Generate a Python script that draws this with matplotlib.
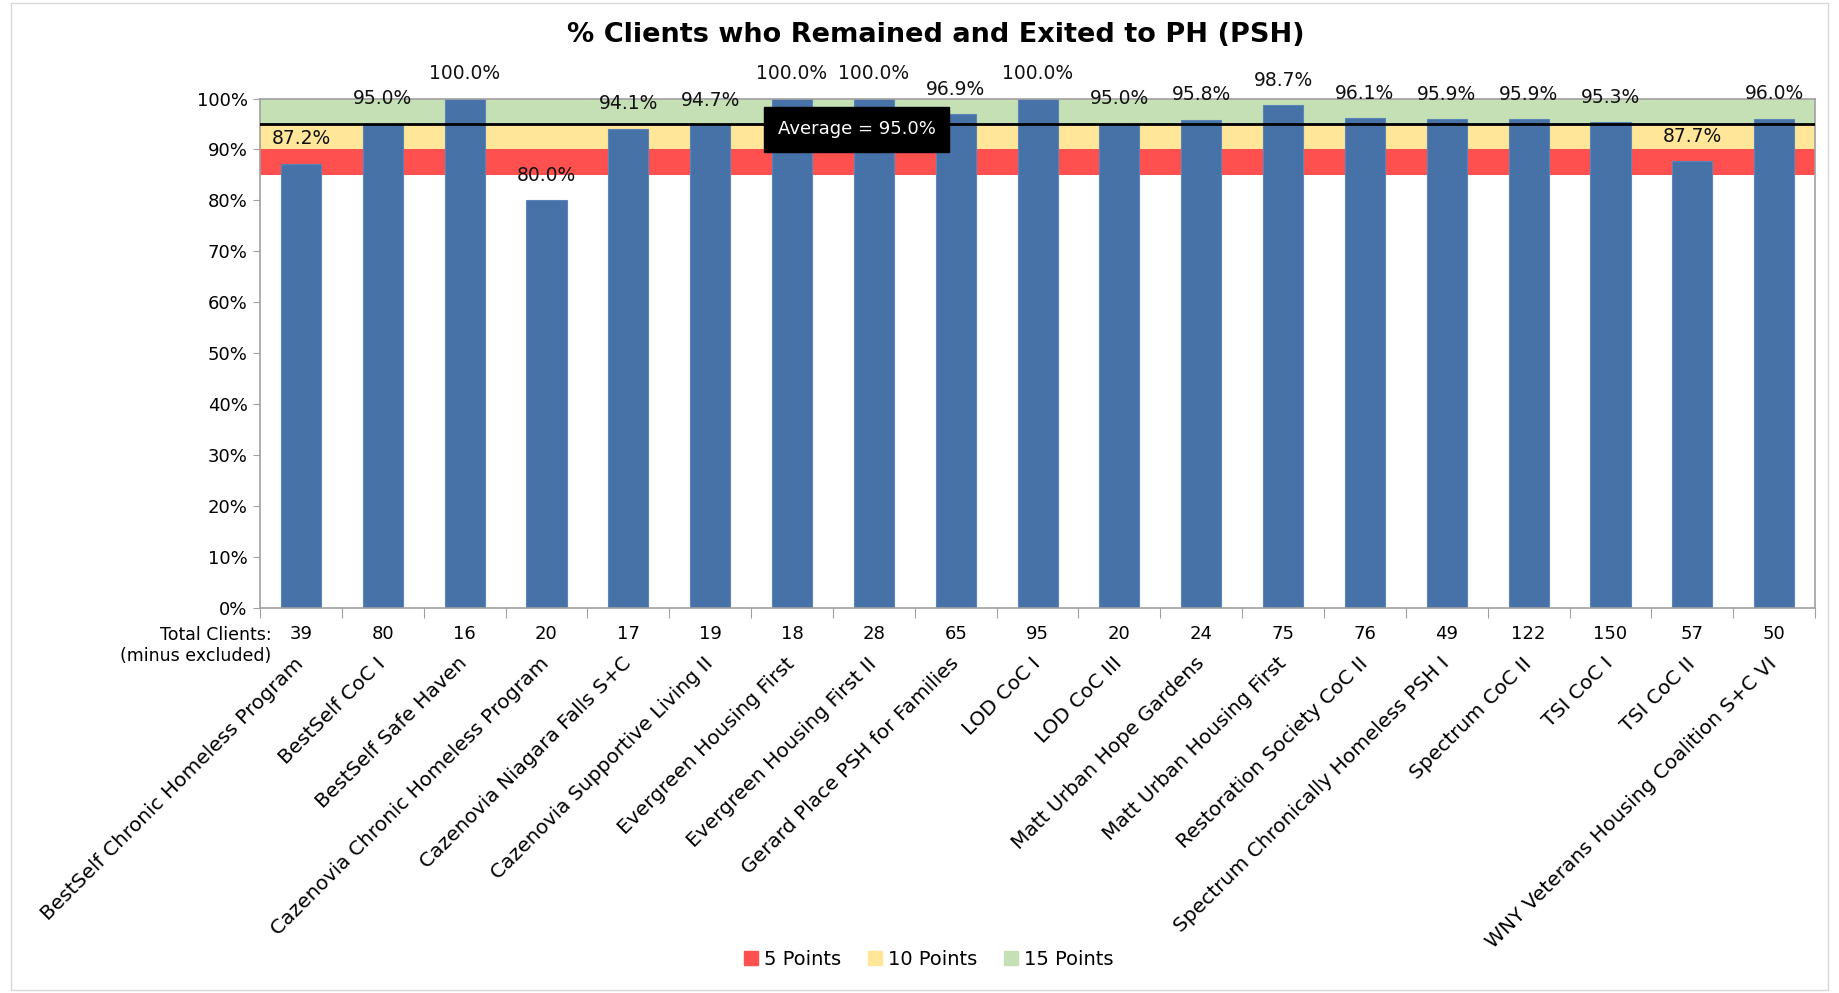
import numpy as np
import matplotlib
matplotlib.use('Agg')
import matplotlib.pyplot as plt
import matplotlib.transforms as mtransforms
from matplotlib.patches import Patch, Rectangle

# data
programs = ["BestSelf Chronic Homeless Program", "BestSelf CoC I", "BestSelf Safe Haven",
            "Cazenovia Chronic Homeless Program", "Cazenovia Niagara Falls S+C",
            "Cazenovia Supportive Living II", "Evergreen Housing First",
            "Evergreen Housing First II", "Gerard Place PSH for Families", "LOD CoC I",
            "LOD CoC III", "Matt Urban Hope Gardens", "Matt Urban Housing First",
            "Restoration Society CoC II", "Spectrum Chronically Homeless PSH I",
            "Spectrum CoC II", "TSI CoC I", "TSI CoC II",
            "WNY Veterans Housing Coalition S+C VI"]
pct_remained = [87.2, 95.0, 100.0, 80.0, 94.1, 94.7, 100.0, 100.0, 96.9, 100.0,
                95.0, 95.8, 98.7, 96.1, 95.9, 95.9, 95.3, 87.7, 96.0]
total_clients = [39, 80, 16, 20, 17, 19, 18, 28, 65, 95, 20, 24, 75, 76, 49, 122, 150, 57, 50]
average = 95.0
bands = [(85, 90, '5 Points', '#FF5050'),
         (90, 95, '10 Points', '#FFE699'),
         (95, 100, '15 Points', '#C5E0B4')]

plt.rcParams['font.family'] = ['DejaVu Sans']

fig = plt.figure(figsize=(18.39, 9.93), dpi=100)
ax = fig.add_axes([0.1414, 0.3882, 0.8456, 0.5126])

x = np.arange(len(programs))

#score bands behind the bars
for lo, hi, name, col in bands:
    ax.axhspan(lo, hi, color=col, zorder=0, lw=0)

ax.bar(x, pct_remained, width=0.49, color='#4672A8', edgecolor='#5B85B8', lw=0.8, zorder=2)

#average line and its label box
ax.axhline(average, color='black', lw=2, zorder=3)
ax.text(6.79, 94.0, 'Average = %.1f%%' % average, color='white', fontsize=13,
        ha='center', va='center', zorder=5,
        bbox=dict(boxstyle='square,pad=0.75', fc='black', ec='black'))

#value labels
for xi, v in zip(x, pct_remained):
    ax.annotate('%.1f%%' % v, (xi, v), xytext=(0, 18), textcoords='offset points',
                ha='center', va='center', fontsize=13.5, color='#111111', zorder=4)

ax.set_xlim(-0.5, len(programs) - 0.5)
ax.set_ylim(0, 100)
ax.set_yticks(np.arange(0, 101, 10))
ax.set_yticklabels(['%d%%' % t for t in range(0, 101, 10)], fontsize=13)
ax.set_xticks(np.arange(-0.5, len(programs), 1))
ax.set_xticklabels([])
ax.tick_params(axis='x', length=7, color='#A0A0A0')
ax.tick_params(axis='y', length=5, color='#A0A0A0', pad=4)
for s in ax.spines.values():
    s.set_color('#A0A0A0')
    s.set_linewidth(1.2)

#counts and category names under the axis
trans = mtransforms.blended_transform_factory(ax.transData, ax.transAxes)
for xi, n, name in zip(x, total_clients, programs):
    ax.text(xi, 0, str(n), transform=trans + mtransforms.ScaledTranslation(0, -26 / 100, fig.dpi_scale_trans),
            ha='center', va='center', fontsize=13)
    ax.text(xi + 0.0, 0, name, rotation=45, rotation_mode='anchor',
            transform=trans + mtransforms.ScaledTranslation(0, -53 / 100, fig.dpi_scale_trans),
            ha='right', va='center', fontsize=14.5)
ax.text(-0.36, 0, 'Total Clients:\n(minus excluded)', transform=trans + mtransforms.ScaledTranslation(0, -38 / 100, fig.dpi_scale_trans),
        ha='right', va='center', fontsize=12.5, multialignment='right', linespacing=1.25)

fig.text(0.509, 0.965, '% Clients who Remained and Exited to PH (PSH)',
         ha='center', va='center', fontsize=19.5, fontweight='bold')

handles = [Patch(color=c, label=n) for lo, hi, n, c in bands]
fig.legend(handles=handles, loc='center', bbox_to_anchor=(0.505, 0.034), ncol=3,
           frameon=False, fontsize=14, handlelength=0.7, handleheight=0.7,
           handletextpad=0.3, columnspacing=1.4)

#outer chart border
fig.patches.append(Rectangle((0.006, 0.003), 0.988, 0.994, transform=fig.transFigure,
                             fill=False, ec='#D9D9D9', lw=1))

plt.savefig('out.png', dpi=100)
